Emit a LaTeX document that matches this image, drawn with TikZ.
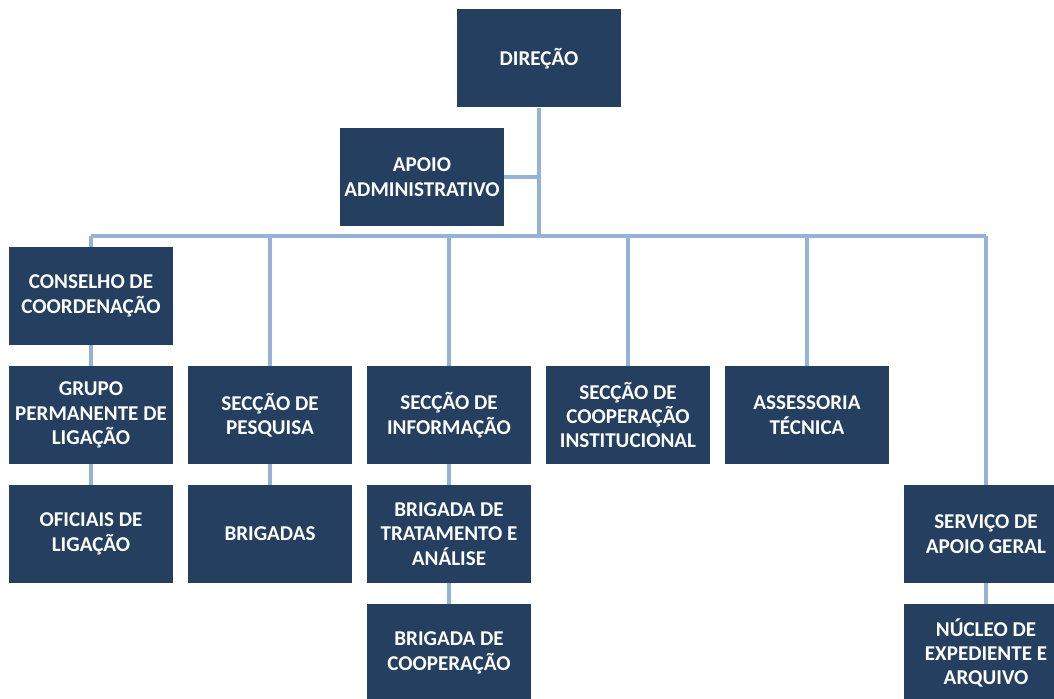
\documentclass[tikz,border=0pt]{standalone}
\usepackage{fontspec}
\setmainfont{Carlito}
\usepackage{tikz}
\usetikzlibrary{positioning,calc}
\usepackage{xcolor}
\definecolor{boxblue}{HTML}{243F60}
\definecolor{lineblue}{HTML}{95B3D7}

\begin{document}
\begin{tikzpicture}[x=0.75pt,y=-0.75pt,
  box/.style={fill=boxblue, text=white, minimum width=123pt, minimum height=73.5pt,
    inner sep=0pt, align=center, font=\fontsize{15.8}{18.3}\selectfont\bfseries},
  link/.style={lineblue, line width=3pt}]

\useasboundingbox (0,0) rectangle (1054,699);
\clip (0,0) rectangle (1054,699);

% Top
\node[box] (dir) at (539,58.5) {DIREÇÃO};
\node[box] (apoio) at (422,177) {APOIO\\ADMINISTRATIVO};
\coordinate (bus) at (0,236);

% First row
\node[box] (cons) at (91,296) {CONSELHO DE\\COORDENAÇÃO};

% Second row
\node[box] (grupo) at (91,415) {GRUPO\\PERMANENTE DE\\LIGAÇÃO};
\node[box] (pesq) at (270,415) {SECÇÃO DE\\PESQUISA};
\node[box] (info) at (449,415) {SECÇÃO DE\\INFORMAÇÃO};
\node[box] (coop) at (628,415) {SECÇÃO DE\\COOPERAÇÃO\\INSTITUCIONAL};
\node[box] (asse) at (807,415) {ASSESSORIA\\TÉCNICA};

% Third row
\node[box] (ofic) at (91,534) {OFICIAIS DE\\LIGAÇÃO};
\node[box] (brig) at (270,534) {BRIGADAS};
\node[box] (trat) at (449,534) {BRIGADA DE\\TRATAMENTO E\\ANÁLISE};
\node[box] (serv) at (986,534) {SERVIÇO DE\\APOIO GERAL};

% Fourth row
\node[box] (bcoop) at (449,653) {BRIGADA DE\\COOPERAÇÃO};
\node[box] (nucl) at (986,653) {NÚCLEO DE\\EXPEDIENTE E\\ARQUIVO};

% Connectors
\draw[link] (dir.south) -- (dir |- bus);
\draw[link] (apoio.east) -- (apoio.east -| dir);
\draw[link] (cons |- bus) -- (serv |- bus);
\foreach \n in {cons,pesq,info,coop,asse,serv}
  \draw[link] (\n |- bus) -- (\n.north);
\draw[link] (cons.south) -- (grupo.north);
\draw[link] (grupo.south) -- (ofic.north);
\draw[link] (pesq.south) -- (brig.north);
\draw[link] (info.south) -- (trat.north);
\draw[link] (trat.south) -- (bcoop.north);
\draw[link] (serv.south) -- (nucl.north);

\end{tikzpicture}
\end{document}
